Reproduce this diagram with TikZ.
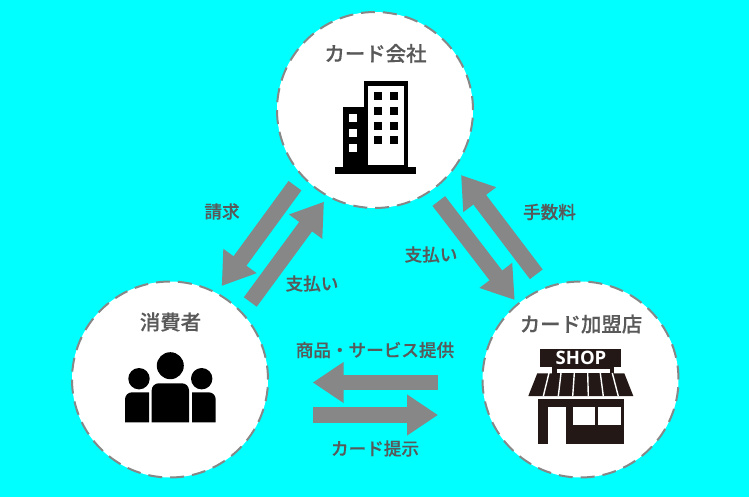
\documentclass[tikz,border=0pt]{standalone}
\usepackage{fontspec}
\setmainfont{Noto Sans CJK JP Medium}[FakeBold=0.35]
\newfontfamily\shopfont{Open Sans}[BoldFont={Open Sans Bold}]
\usetikzlibrary{arrows.meta}
\definecolor{bgcyan}{HTML}{00FFFF}
\definecolor{flowgray}{HTML}{878787}
\definecolor{txtgray}{HTML}{595959}
\definecolor{shopdark}{HTML}{231815}
\tikzset{
  x=1pt,y=-1pt,
  party/.style={circle,draw=flowgray,fill=white,line width=2pt,dash pattern=on 14pt off 8pt,minimum size=196pt,inner sep=0pt},
  title/.style={text=txtgray,font=\fontsize{20.4}{24}\selectfont,inner sep=0pt},
  flow/.style={text=txtgray,font=\fontsize{17.6}{20}\selectfont,inner sep=0pt},
  blockflow/.style={draw=flowgray,line width=16pt,-{Triangle[length=31pt,width=39pt,fill=flowgray]}},
}
\begin{document}
\begin{tikzpicture}
\useasboundingbox (0,0) rectangle (749,497);
\fill[bgcyan] (0,0) rectangle (749,497);
\node[party] (card) at (375,110) {};
\node[party] (cons) at (170,379.5) {};
\node[party] (shop) at (580.5,379.5) {};
\node[title] (cardt) at (375.5,53.5) {カード会社};
\node[title] (const) at (170.5,322) {消費者};
\node[title] (shopt) at (581,324) {カード加盟店};
% building
\fill (335,167) rectangle (416,174);
\fill (363.7,81) rectangle (408.3,167);
\fill (342.7,107.3) rectangle (368,167);
\fill[white] (368,85.7) rectangle (404,164.7);
\foreach \yy in {92.3,107,121.7,136.3}{
  \fill (374.3,\yy) rectangle +(8,8);
  \fill (389.5,\yy) rectangle +(8,8);
}
\foreach \yy in {114.3,129.3,144}{
  \fill[white] (349.3,\yy) rectangle +(7.7,7.7);
}
% people
\fill (170.3,365.7) circle[radius=13.5];
\fill (139,378.7) circle[radius=10.7];
\fill (201.7,378.7) circle[radius=10.7];
\fill (151.7,422.3) [rounded corners=7pt] -- (151.7,383.3) -- (189,383.3) [sharp corners] -- (189,422.3) -- cycle;
\fill (125,422.3) [rounded corners=7pt] -- (125,392.3) [sharp corners] -- (149,392.3) -- (149,422.3) -- cycle;
\fill (192,422.3) -- (192,392.3) [rounded corners=7pt] -- (215.7,392.3) [sharp corners] -- (215.7,422.3) -- cycle;
% shop
\fill[shopdark] (540,349) rectangle (620.7,367);
\node[text=white,font=\shopfont\bfseries\fontsize{18.5}{20}\selectfont,inner sep=0pt] (shopsign) at (581,358) {SHOP};
\fill[shopdark] (552.3,367) rectangle (614,373.5);
\fill[white] (556.7,369) rectangle (610,372.7);
\fill[shopdark] (537.3,373.3) -- (528.3,396) -- (633.3,396) -- (624.3,373.3) -- cycle;
\foreach \xa/\xb in {549/543.3,561/558.3,574.3/572.7,587.7/588.3,600.3/603.3,612.3/618.3}{
  \draw[white,line width=1.4pt] (\xa,373) -- (\xb,396.2);
}
\fill[shopdark] (537.7,399) rectangle (624.3,444.3);
\fill[white] (547.7,407.3) rectangle (565.7,444.6);
\fill[white] (572.7,407.3) rectangle (595.3,425);
\fill[white] (598.3,407.3) rectangle (621,425);
% flows
\coordinate (a0) at (295,185.7); \coordinate (a1) at (221.7,286);
\coordinate (b0) at (250.3,302); \coordinate (b1) at (324,201.7);
\coordinate (c0) at (536.3,274.3); \coordinate (c1) at (461,175);
\coordinate (d0) at (438.8,201); \coordinate (d1) at (514.7,300);
\coordinate (e0) at (438,382.5); \coordinate (e1) at (312.7,382.5);
\coordinate (f0) at (313,415); \coordinate (f1) at (438,415);
\draw[blockflow] (a0) -- (a1);
\draw[blockflow] (b0) -- (b1);
\draw[blockflow] (c0) -- (c1);
\draw[blockflow] (d0) -- (d1);
\draw[blockflow,line width=15pt] (e0) -- (e1);
\draw[blockflow] (f0) -- (f1);
\node[flow] (l1) at (222,211.5) {請求};
\node[flow] (l2) at (312,283.5) {支払い};
\node[flow] (l3) at (431,254.5) {支払い};
\node[flow] (l4) at (549.5,212) {手数料};
\node[flow] (l5) at (375,350) {商品・サービス提供};
\node[flow] (l6) at (375,448.5) {カード提示};
\end{tikzpicture}
\end{document}
